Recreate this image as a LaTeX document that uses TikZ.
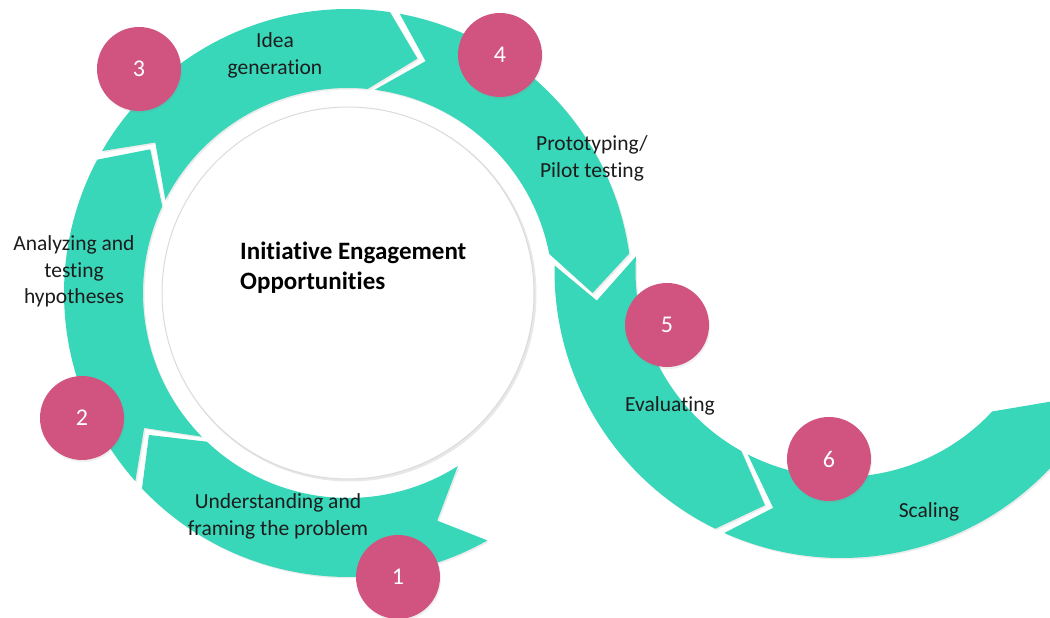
\documentclass[tikz,border=0pt]{standalone}
\usepackage{fontspec}
\setmainfont{Carlito}[Ligatures=NoCommon]
\usetikzlibrary{shadows}
\definecolor{tealA}{RGB}{57,215,185}
\definecolor{pinkA}{RGB}{208,84,127}
\definecolor{txtA}{RGB}{28,28,28}
% #1 tail notch angle, #2 head apex angle, #3 flow sign, #4 Rin, #5 Rmid, #6 Rout
\newcommand{\ringarrow}[6]{%
  \pgfmathsetmacro{\ArwTo}{#1-(#3)*8}%
  \pgfmathsetmacro{\ArwTi}{#1-(#3)*11}%
  \pgfmathsetmacro{\ArwHo}{#2-(#3)*8}%
  \pgfmathsetmacro{\ArwHi}{#2-(#3)*11}%
  \fill[arrowband] (\ArwTo:#6) arc[start angle=\ArwTo, end angle=\ArwHo, radius=#6]
    -- (#2:#5) -- (\ArwHi:#4) arc[start angle=\ArwHi, end angle=\ArwTi, radius=#4]
    -- (#1:#5) -- cycle;}
\tikzset{
  arrowband/.style={fill=tealA, drop shadow={opacity=0.15, shadow xshift=1.5pt, shadow yshift=-1.5pt}},
  num/.style={circle, fill=pinkA, minimum size=84pt, inner sep=0pt, text=white,
    font=\fontsize{24}{28}\selectfont, drop shadow={opacity=0.13, shadow xshift=1pt, shadow yshift=-2pt}},
  lbl/.style={align=center, inner sep=0pt, text=txtA, font=\fontsize{21.5}{26.5}\selectfont},
  ctr/.style={align=left, inner sep=0pt, text=black, font=\bfseries\fontsize{25}{30}\selectfont}
}
\begin{document}
\begin{tikzpicture}[x=1pt,y=1pt]
\useasboundingbox (0,0) rectangle (1050,618);
\begin{scope}
\clip (0,0) rectangle (1050,618);
% centre circle
\fill[black!9] (349.5,323.5) circle (187);
\fill[white] (348,325) circle (186);
\draw[black!14, line width=1pt] (348,325) circle (186);
% first ring
\begin{scope}[shift={(348,325)}]
\ringarrow{-68.6}{-144.5}{-1}{205}{244.5}{284}
\ringarrow{-146.5}{-216}{-1}{205}{244.5}{284}
\ringarrow{-218}{-286.5}{-1}{205}{244.5}{284}
\ringarrow{-288.5}{-360}{-1}{205}{244.5}{284}
\end{scope}
% second ring
\begin{scope}[shift={(841.5,347)}]
\ringarrow{186.9}{251.9}{1}{206}{246.5}{287}
\ringarrow{253.9}{328}{1}{206}{246.5}{287}
\end{scope}
% numbered circles
\node[num] (n1) at (398,41) {1};
\node[num] (n2) at (82,200) {2};
\node[num] (n3) at (139,549) {3};
\node[num] (n4) at (500,563) {4};
\node[num] (n5) at (667,293) {5};
\node[num] (n6) at (829,159) {6};
% labels
\node[lbl] (tIdea) at (275,562.5) {Idea\\generation};
\node[lbl] (tAna) at (74,346.3) {Analyzing and\\testing\\hypotheses};
\node[lbl] (tUnd) at (278,101.5) {Understanding and\\framing the problem};
\node[lbl] (tPro) at (592,459.5) {Prototyping/\\Pilot testing};
\node[lbl] (tEva) at (670,212) {Evaluating};
\node[lbl] (tSca) at (929,106) {Scaling};
\node[ctr, anchor=west] (tCtr) at (240,350) {Initiative Engagement\\Opportunities};
\end{scope}
\end{tikzpicture}
\end{document}
